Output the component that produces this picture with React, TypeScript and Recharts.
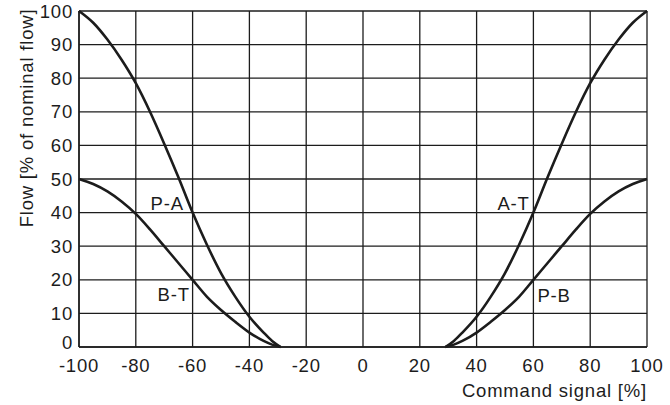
import { LineChart, Line, XAxis, YAxis, CartesianGrid, ReferenceDot } from "recharts";

// command signal [%] and flow [% of nominal flow]
const leftX = [-100, -95, -90, -85, -80, -75, -70, -65, -60, -55, -50, -45, -40, -35, -32, -29];
const paFlow = [100, 96.5, 91.5, 85.5, 78.5, 70, 60.5, 50.5, 40, 30.5, 22, 15, 9, 4.3, 1.8, 0];
const btFlow = [50, 48.5, 46.3, 43.3, 39.6, 35, 30, 25, 20, 15, 11, 7.5, 4.3, 1.8, 0.7, 0];

const rightX = [29, 32, 35, 40, 45, 50, 55, 60, 65, 70, 75, 80, 85, 90, 95, 100];
const atFlow = [0, 1.8, 4.3, 9, 15, 22, 30.5, 40, 50.5, 60.5, 70, 78.5, 85.5, 91.5, 96.5, 100];
const pbFlow = [0, 0.7, 1.8, 4.3, 7.5, 11, 15, 20, 25, 30, 35, 39.6, 43.3, 46.3, 48.5, 50];

const xTicks = [-100, -80, -60, -40, -20, 0, 20, 40, 60, 80, 100];
const yTicks = [0, 10, 20, 30, 40, 50, 60, 70, 80, 90, 100];

const curveLabels = [
  { name: "P-A", x: -60, y: 40, dx: -42, dy: -3 },
  { name: "B-T", x: -60, y: 20, dx: -35, dy: 21 },
  { name: "A-T", x: 60, y: 40, dx: -36, dy: -3 },
  { name: "P-B", x: 60, y: 20, dx: 4, dy: 22 },
];

const pa = leftX.map((x, i) => ({ x, y: paFlow[i] }));
const bt = leftX.map((x, i) => ({ x, y: btFlow[i] }));
const at = rightX.map((x, i) => ({ x, y: atFlow[i] }));
const pb = rightX.map((x, i) => ({ x, y: pbFlow[i] }));

const FONT = "'Liberation Sans', Arial, sans-serif";
const INK = "#1c1c1c";
const FS = 18.5;
const LS = 0.8;

// the "0" sits a little above the baseline in the original, clear of "-100"
function YTick({ x, y, payload }: any) {
  const lift = payload.value === 0 ? -5 : 0;
  return (
    <text x={x} y={y + lift} textAnchor="end" dominantBaseline="central" fontSize={FS} letterSpacing={LS} fill={INK} fontFamily={FONT}>
      {payload.value}
    </text>
  );
}

export default function App() {
  const tick = { fontSize: FS, fill: INK, fontFamily: FONT, letterSpacing: LS };
  return (
    <div style={{ position: "absolute", left: 0, top: 0, width: 670, height: 405, background: "#fff" }}>
      <LineChart width={670} height={405} margin={{ top: 11, right: 23, left: 0, bottom: 0 }}>
        <CartesianGrid stroke={INK} strokeWidth={1.3} horizontalValues={yTicks} verticalValues={xTicks} />
        <XAxis
          type="number"
          dataKey="x"
          domain={[-100, 100]}
          ticks={xTicks}
          height={58}
          tickLine={false}
          tickSize={0}
          tickMargin={12}
          axisLine={{ stroke: INK, strokeWidth: 1.5 }}
          tick={tick}
          allowDuplicatedCategory={false}
          label={{
            content: () => (
              <text x={647} y={390} textAnchor="end" dominantBaseline="central" fontSize={FS} letterSpacing={LS} fill={INK} fontFamily={FONT}>
                Command signal [%]
              </text>
            ),
          }}
        />
        <YAxis
          type="number"
          domain={[0, 100]}
          ticks={yTicks}
          width={79}
          tickLine={false}
          tickSize={0}
          tickMargin={6}
          axisLine={{ stroke: INK, strokeWidth: 1.5 }}
          tick={<YTick />}
          label={{
            content: () => (
              <text x={26} y={118} transform="rotate(-90 26 118)" textAnchor="middle" dominantBaseline="central" fontSize={FS} letterSpacing={LS} fill={INK} fontFamily={FONT}>
                Flow [% of nominal flow]
              </text>
            ),
          }}
        />
        <Line data={pa} dataKey="y" type="monotone" stroke={INK} strokeWidth={2.6} dot={false} isAnimationActive={false} />
        <Line data={bt} dataKey="y" type="monotone" stroke={INK} strokeWidth={2.6} dot={false} isAnimationActive={false} />
        <Line data={at} dataKey="y" type="monotone" stroke={INK} strokeWidth={2.6} dot={false} isAnimationActive={false} />
        <Line data={pb} dataKey="y" type="monotone" stroke={INK} strokeWidth={2.6} dot={false} isAnimationActive={false} />
        {curveLabels.map((l) => (
          <ReferenceDot
            key={l.name}
            x={l.x}
            y={l.y}
            r={0}
            fill="none"
            stroke="none"
            label={{
              content: (p: any) => (
                <text x={p.viewBox.x + l.dx} y={p.viewBox.y + l.dy} fontSize={FS} letterSpacing={LS} fill={INK} fontFamily={FONT}>
                  {l.name}
                </text>
              ),
            }}
          />
        ))}
      </LineChart>
    </div>
  );
}
